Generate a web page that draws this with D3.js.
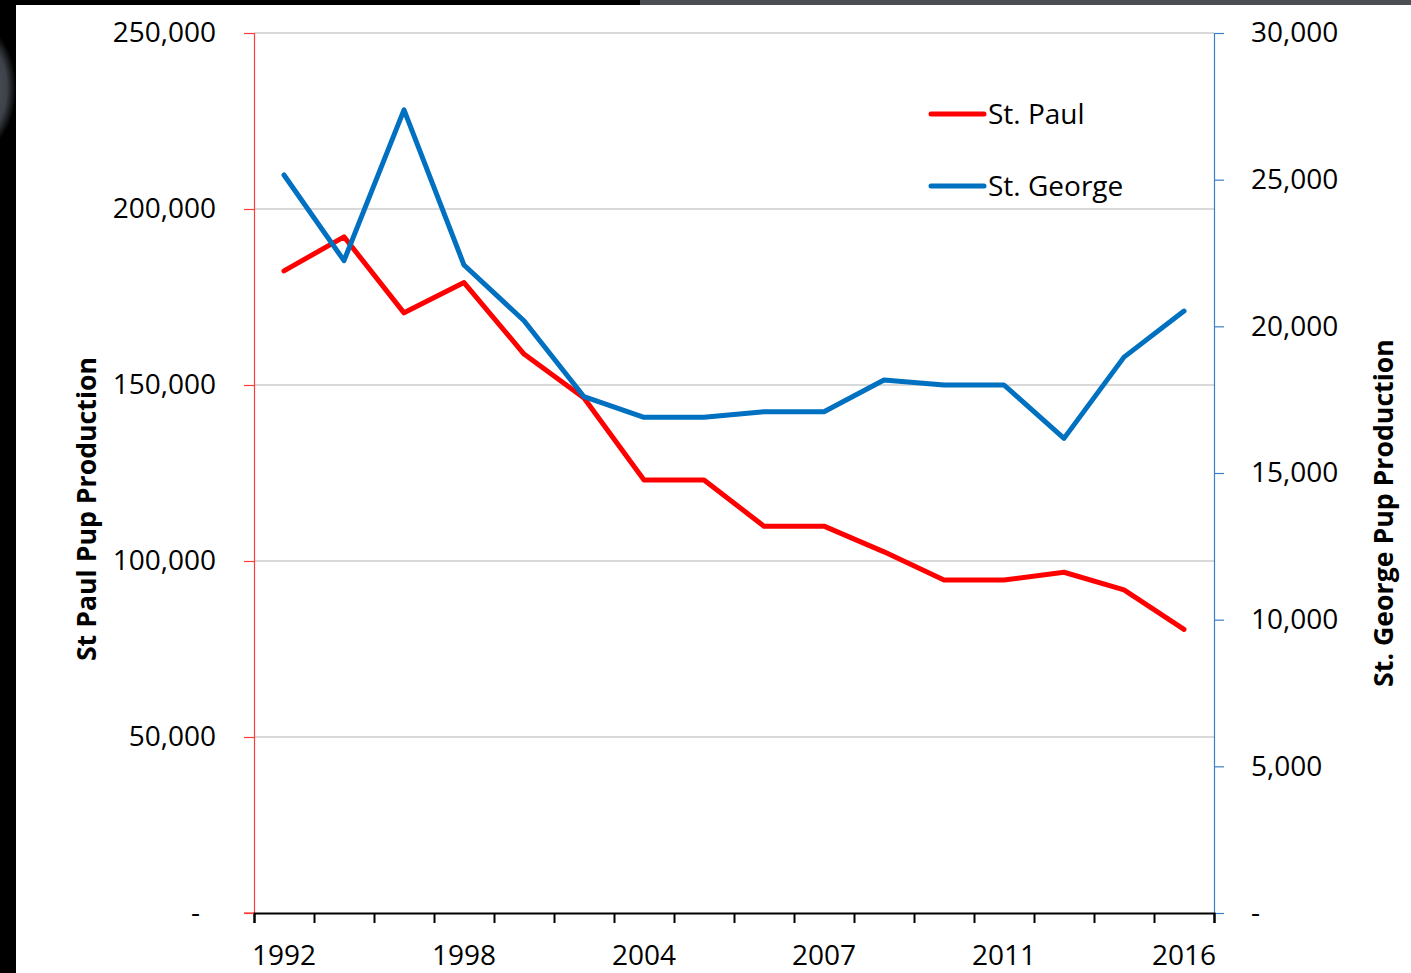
<!DOCTYPE html>
<html>
<head>
<meta charset="utf-8">
<script src="https://cdn.jsdelivr.net/npm/d3@7"></script>
<style>
  html, body { margin: 0; padding: 0; background: #fff; }
  svg { display: block; }
  text { font-family: "Open Sans", sans-serif; fill: #000; }
</style>
</head>
<body>
<svg id="chart" width="1411" height="973"></svg>
<script>
// categories along the bottom (only every third one is labelled)
const years = ["1992", "1994", "1996", "1998", "2000", "2002", "2004", "2005",
               "2006", "2007", "2008", "2010", "2011", "2012", "2014", "2016"];
const shownYears = ["1992", "1998", "2004", "2007", "2011", "2016"];

// pup production
const stPaul = [182400, 192100, 170500, 179100, 158800, 146300, 123000, 123000,
                109900, 109900, 102600, 94600, 94600, 96800, 91800, 80600];
const stGeorge = [25160, 22240, 27380, 22090, 20190, 17600, 16900, 16900,
                  17090, 17090, 18170, 18000, 18000, 16180, 18950, 20520];

const leftTicks = [0, 50000, 100000, 150000, 200000, 250000];
const rightTicks = [0, 5000, 10000, 15000, 20000, 25000, 30000];

const seriesNames = ["St. Paul", "St. George"];
const seriesColors = ["#ff0000", "#0070c0"];

const W = 1411, H = 973;
const plot = {left: 254, right: 1214, top: 33, bottom: 913};
const fs = 28;

const svg = d3.select("#chart");

// the slide border bits left and top
svg.append("rect").attr("x", 0).attr("y", 0).attr("width", 16).attr("height", H).attr("fill", "#000");
svg.append("rect").attr("x", 0).attr("y", 0).attr("width", 640).attr("height", 5).attr("fill", "#000");
svg.append("rect").attr("x", 640).attr("y", 0).attr("width", W - 640).attr("height", 5).attr("fill", "#4b4f53");
const defs = svg.append("defs");
defs.append("clipPath").attr("id", "strip").append("rect")
    .attr("x", 0).attr("y", 5).attr("width", 16).attr("height", 200);
const grad = defs.append("radialGradient").attr("id", "blob");
grad.append("stop").attr("offset", "0%").attr("stop-color", "#5a6069");
grad.append("stop").attr("offset", "75%").attr("stop-color", "#3d4249");
grad.append("stop").attr("offset", "100%").attr("stop-color", "#000");
svg.append("ellipse").attr("clip-path", "url(#strip)")
    .attr("cx", -20).attr("cy", 88).attr("rx", 36).attr("ry", 62)
    .attr("fill", "url(#blob)");

// scales
const x = d3.scaleBand().domain(years).range([plot.left, plot.right]).paddingInner(0).paddingOuter(0);
const xEdge = d3.scaleLinear().domain([0, years.length]).range([plot.left, plot.right]);
const yL = d3.scaleLinear().domain([0, 250000]).range([plot.bottom, plot.top]);
const yR = d3.scaleLinear().domain([0, 30000]).range([plot.bottom, plot.top]);
const cx = d => x(d) + x.bandwidth() / 2;

// gridlines
svg.append("g").selectAll("line")
  .data(leftTicks.filter(d => d > 0))
  .enter().append("line")
    .attr("x1", plot.left).attr("x2", plot.right)
    .attr("y1", d => yL(d)).attr("y2", d => yL(d))
    .attr("stroke", "#d9d9d9").attr("stroke-width", 2);

const fmt = d3.format(",");

// left axis
const axL = svg.append("g")
    .attr("transform", `translate(${plot.left},0)`)
    .call(d3.axisLeft(yL).tickValues(leftTicks).tickSize(10).tickPadding(28)
      .tickFormat(d => d === 0 ? "-" : fmt(d)));
axL.select(".domain").attr("stroke", "#ff3b3b").attr("stroke-width", 1.2);
axL.selectAll(".tick line").attr("stroke", "#ff3b3b").attr("stroke-width", 1.2);
axL.selectAll(".tick text").attr("font-size", fs).attr("font-family", "Open Sans").attr("fill", "#000")
    .filter(d => d === 0).attr("dx", -16);

// right axis
const axR = svg.append("g")
    .attr("transform", `translate(${plot.right},0)`)
    .call(d3.axisRight(yR).tickValues(rightTicks).tickSize(10).tickPadding(27)
      .tickFormat(d => d === 0 ? "-" : fmt(d)));
axR.select(".domain").attr("stroke", "#3a80c6").attr("stroke-width", 1.2);
axR.selectAll(".tick line").attr("stroke", "#3a80c6").attr("stroke-width", 1.2);
axR.selectAll(".tick text").attr("font-size", fs).attr("font-family", "Open Sans").attr("fill", "#000");

// bottom axis: ticks between categories, labels every third
const axB = svg.append("g")
    .attr("transform", `translate(0,${plot.bottom})`)
    .call(d3.axisBottom(xEdge).tickValues(d3.range(years.length + 1)).tickSize(10).tickFormat(""));
axB.select(".domain").attr("stroke", "#000").attr("stroke-width", 2);
axB.selectAll(".tick line").attr("stroke", "#000").attr("stroke-width", 2);

const axBL = svg.append("g")
    .attr("transform", `translate(0,${plot.bottom})`)
    .call(d3.axisBottom(x).tickValues(shownYears).tickSize(0).tickPadding(32));
axBL.select(".domain").remove();
axBL.selectAll(".tick text").attr("font-size", fs).attr("font-family", "Open Sans").attr("fill", "#000");

// redraw the red tick over the x axis corner
svg.append("line")
    .attr("x1", plot.left).attr("x2", plot.left - 10)
    .attr("y1", plot.bottom).attr("y2", plot.bottom)
    .attr("stroke", "#ff3b3b").attr("stroke-width", 1.2);

// axis titles
svg.append("text")
    .attr("transform", "translate(96,509) rotate(-90)")
    .attr("text-anchor", "middle")
    .attr("font-weight", "bold").attr("font-size", 26.7)
    .text("St Paul Pup Production");
svg.append("text")
    .attr("transform", "translate(1393,513) rotate(-90)")
    .attr("text-anchor", "middle")
    .attr("font-weight", "bold").attr("font-size", 26.7)
    .text("St. George Pup Production");

// series lines
const lineL = d3.line().x((d, i) => cx(years[i])).y(d => yL(d));
const lineR = d3.line().x((d, i) => cx(years[i])).y(d => yR(d));

svg.append("path").datum(stPaul)
    .attr("d", lineL).attr("fill", "none")
    .attr("stroke", seriesColors[0]).attr("stroke-width", 5)
    .attr("stroke-linejoin", "round").attr("stroke-linecap", "round");
svg.append("path").datum(stGeorge)
    .attr("d", lineR).attr("fill", "none")
    .attr("stroke", seriesColors[1]).attr("stroke-width", 5)
    .attr("stroke-linejoin", "round").attr("stroke-linecap", "round");

// legend
const legend = svg.append("g").attr("transform", "translate(931,114)");
const item = legend.selectAll("g").data(seriesNames).enter().append("g")
    .attr("transform", (d, i) => `translate(0,${i * 72})`);
item.append("line")
    .attr("x1", 0).attr("x2", 53).attr("y1", 0).attr("y2", 0)
    .attr("stroke", (d, i) => seriesColors[i]).attr("stroke-width", 5)
    .attr("stroke-linecap", "round");
item.append("text")
    .attr("x", 57).attr("y", 10)
    .attr("font-size", fs)
    .text(d => d);
</script>
</body>
</html>
